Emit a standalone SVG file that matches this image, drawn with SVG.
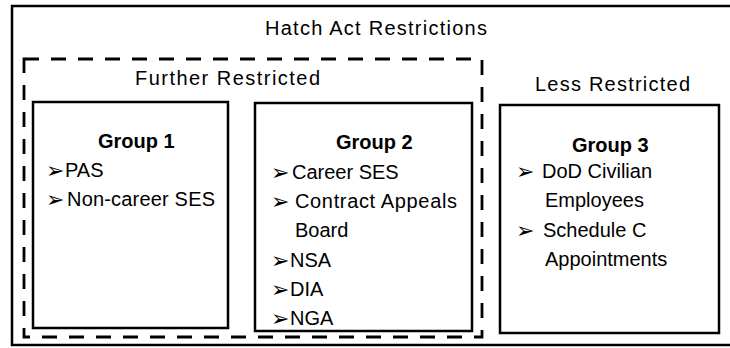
<svg xmlns="http://www.w3.org/2000/svg" width="730" height="348" viewBox="0 0 730 348">
<style>
.box{fill:none;stroke:#000;stroke-width:2.5}
.dash{fill:none;stroke:#000;stroke-width:2.8;stroke-dasharray:15 12}
text{font-family:"Liberation Sans",Arial,sans-serif;fill:#000}
.hd{font-size:20px}
.gt{font-size:20px;font-weight:bold}
.it{font-size:20px}
.ar{font-family:"DejaVu Sans",sans-serif;font-size:22px}
</style>
<rect width="730" height="348" fill="#fff"/>
<g id="outer">
<rect class="box" x="12" y="6" width="722" height="339" stroke-width="2"/>
<text class="hd" x="265" y="35" textLength="222" lengthAdjust="spacing">Hatch Act Restrictions</text>
</g>
<g id="further">
<rect class="dash" x="24" y="59" width="458" height="278"/>
<text class="hd" x="135" y="85" textLength="185" lengthAdjust="spacing">Further Restricted</text>
</g>
<g id="less">
<text class="hd" x="535" y="91" textLength="155" lengthAdjust="spacing">Less Restricted</text>
</g>
<g id="group1">
<rect class="box" x="33" y="102" width="195" height="226"/>
<text class="gt" x="98" y="148">Group 1</text>
<text class="ar" x="46" y="178">➢</text>
<text class="it" x="65" y="177">PAS</text>
<text class="ar" x="46" y="207">➢</text>
<text class="it" x="67" y="206" textLength="148" lengthAdjust="spacing">Non-career SES</text>
</g>
<g id="group2">
<rect class="box" x="255" y="103" width="217" height="228"/>
<text class="gt" x="336" y="149">Group 2</text>
<text class="ar" x="271" y="180">➢</text>
<text class="it" x="292" y="179">Career SES</text>
<text class="ar" x="271" y="209">➢</text>
<text class="it" x="295" y="208" textLength="162" lengthAdjust="spacing">Contract Appeals</text>
<text class="it" x="295" y="237">Board</text>
<text class="ar" x="271" y="268">➢</text>
<text class="it" x="290" y="267">NSA</text>
<text class="ar" x="271" y="297">➢</text>
<text class="it" x="290" y="296">DIA</text>
<text class="ar" x="271" y="326">➢</text>
<text class="it" x="290" y="325">NGA</text>
</g>
<g id="group3">
<rect class="box" x="500" y="105" width="219" height="228"/>
<text class="gt" x="572" y="152">Group 3</text>
<text class="ar" x="516" y="179">➢</text>
<text class="it" x="542" y="178">DoD Civilian</text>
<text class="it" x="545" y="207">Employees</text>
<text class="ar" x="516" y="238">➢</text>
<text class="it" x="543" y="237">Schedule C</text>
<text class="it" x="545" y="266">Appointments</text>
</g>
<g id="connectors"/>
</svg>
